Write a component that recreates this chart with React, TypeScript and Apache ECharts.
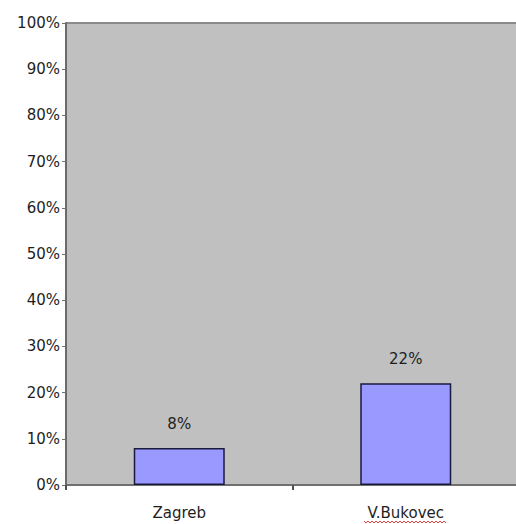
import React, { useEffect, useRef } from "react";
import * as echarts from "echarts";

const categories = ["Zagreb", "V.Bukovec"];
const values = [8, 22];
const yTicks = [0, 10, 20, 30, 40, 50, 60, 70, 80, 90, 100];

export default function App() {
  const ref = useRef<HTMLDivElement>(null);
  useEffect(() => {
    if (!ref.current) return;
    const chart = echarts.init(ref.current, null, { renderer: "svg" });
    const font = "DejaVu Sans, sans-serif";
    chart.setOption({
      animation: false,
      backgroundColor: "#ffffff",
      grid: { left: 66, top: 23, width: 453, height: 462, show: true, backgroundColor: "#c0c0c0", borderWidth: 0 },
      xAxis: {
        type: "category",
        data: categories,
        axisLine: { show: true, lineStyle: { color: "#707070", width: 2 } },
        axisTick: { show: true, alignWithLabel: false, length: 5, lineStyle: { color: "#505050", width: 2 } },
        axisLabel: { color: "#1e1e1e", fontSize: 15, fontFamily: font, margin: 20 },
        splitLine: { show: false },
      },
      yAxis: {
        type: "value",
        min: 0,
        max: 100,
        interval: 10,
        axisLine: { show: true, lineStyle: { color: "#6a6a6a", width: 2 } },
        axisTick: { show: true, length: 4, lineStyle: { color: "#707070" } },
        axisLabel: {
          color: "#1e1e1e",
          fontSize: 15,
          fontFamily: font,
          margin: 6,
          formatter: (v: number) => (yTicks.includes(v) ? v + "%" : ""),
        },
        splitLine: { show: false },
      },
      series: [
        {
          type: "bar",
          data: values,
          barWidth: 91,
          itemStyle: { color: "#9999ff", borderColor: "#1a1a40", borderWidth: 1.5 },
          label: {
            show: true,
            position: "top",
            distance: 17,
            formatter: (p: any) => p.value + "%",
            color: "#1e1e1e",
            fontSize: 15,
            fontFamily: font,
          },
        },
      ],
      graphic: [
        {
          type: "line",
          shape: { x1: 66, y1: 23, x2: 519, y2: 23 },
          style: { stroke: "#8a8a8a", lineWidth: 2 },
        },
        {
          type: "polyline",
          shape: {
            points: [
              [364, 521], [366, 523], [368, 521], [370, 523], [372, 521], [374, 523], [376, 521], [378, 523],
              [380, 521], [382, 523], [384, 521], [386, 523], [388, 521], [390, 523], [392, 521], [394, 523],
              [396, 521], [398, 523], [400, 521], [402, 523], [404, 521], [406, 523], [408, 521], [410, 523],
              [412, 521], [414, 523], [416, 521], [418, 523], [420, 521], [422, 523], [424, 521], [426, 523],
              [428, 521], [430, 523], [432, 521], [434, 523], [436, 521], [438, 523], [440, 521], [442, 523],
              [444, 521], [446, 523],
            ],
          },
          style: { stroke: "#e04040", lineWidth: 1, fill: null },
        },
      ],
    });
    return () => chart.dispose();
  }, []);
  return (
    <div style={{ position: "fixed", left: 0, top: 0, width: 516, height: 524, overflow: "hidden", background: "#fff" }}>
      <div ref={ref} style={{ width: 522, height: 524 }} />
    </div>
  );
}
